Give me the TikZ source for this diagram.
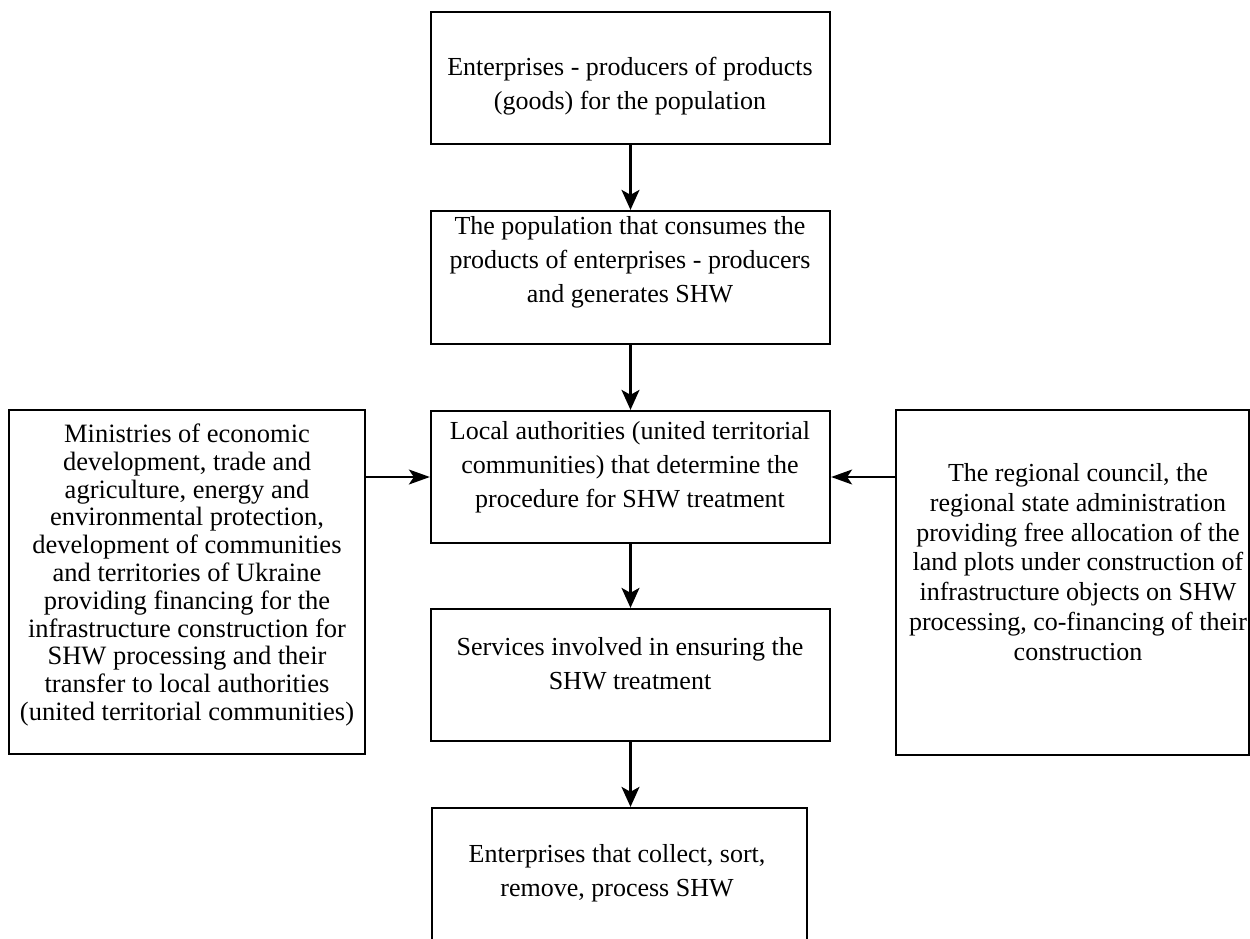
\documentclass[tikz,border=0pt]{standalone}
\usepackage{fontspec}
\setmainfont{Liberation Serif}
\usetikzlibrary{arrows.meta}
\begin{document}
\begin{tikzpicture}[x=1pt,y=-1pt,
  box/.style={draw=black, line width=2.3pt, rectangle, inner sep=0pt},
  ctext/.style={align=center, inner sep=0pt, font=\fontsize{26}{34}\selectfont},
  ltext/.style={align=center, inner sep=0pt, font=\fontsize{26.5}{27.8}\selectfont},
  rtext/.style={align=center, inner sep=0pt, font=\fontsize{26}{29.7}\selectfont},
  varrow/.style={line width=2.2pt, -{Stealth[length=20pt,width=18pt,inset=5pt]}},
  harrow/.style={line width=1.5pt, -{Stealth[length=21pt,width=15pt,inset=5pt]}}
]
\useasboundingbox (0,0) rectangle (1250,938);
\clip (0,0) rectangle (1250,938);
\fill[white] (0,0) rectangle (1250,938);

% boxes
\node[box, minimum width=399pt, minimum height=132pt] (top) at (630.5,78) {};
\node[box, minimum width=399pt, minimum height=133pt] (pop) at (630.5,277.5) {};
\node[box, minimum width=399pt, minimum height=132pt] (loc) at (630.5,477) {};
\node[box, minimum width=399pt, minimum height=132pt] (serv) at (630.5,675) {};
\node[box, minimum width=375pt, minimum height=200pt] (ent) at (619.5,908) {};
\node[box, minimum width=356pt, minimum height=344pt] (min) at (187,582) {};
\node[box, minimum width=353pt, minimum height=345pt] (reg) at (1072.5,582.5) {};

% texts
\node[ctext] (topt) at (630,86) {Enterprises - producers of products\\(goods) for the population};
\node[ctext] (popt) at (630,262) {The population that consumes the\\products of enterprises - producers\\and generates SHW};
\node[ctext] (loct) at (630,467) {Local authorities (united territorial\\communities) that determine the\\procedure for SHW treatment};
\node[ctext] (servt) at (630,664) {Services involved in ensuring the\\SHW treatment};
\node[ctext] (entt) at (617,873) {Enterprises that collect, sort,\\remove, process SHW};
\node[ltext] (mint) at (187,575) {Ministries of economic\\development, trade and\\agriculture, energy and\\environmental protection,\\development of communities\\and territories of Ukraine\\providing financing for the\\infrastructure construction for\\SHW processing and their\\transfer to local authorities\\(united territorial communities)};
\node[rtext] (regt) at (1078,562) {The regional council, the\\regional state administration\\providing free allocation of the\\land plots under construction of\\infrastructure objects on SHW\\processing, co-financing of their\\construction};

% connectors
\draw[varrow] (top.south) -- (pop.north);
\draw[varrow] (pop.south) -- (loc.north);
\draw[varrow] (loc.south) -- (serv.north);
\draw[varrow] (serv.south) -- (ent.north -| serv.south);
\draw[harrow] (min.east |- loc.west) -- (loc.west);
\draw[harrow] (reg.west |- loc.east) -- (loc.east);
\end{tikzpicture}
\end{document}
